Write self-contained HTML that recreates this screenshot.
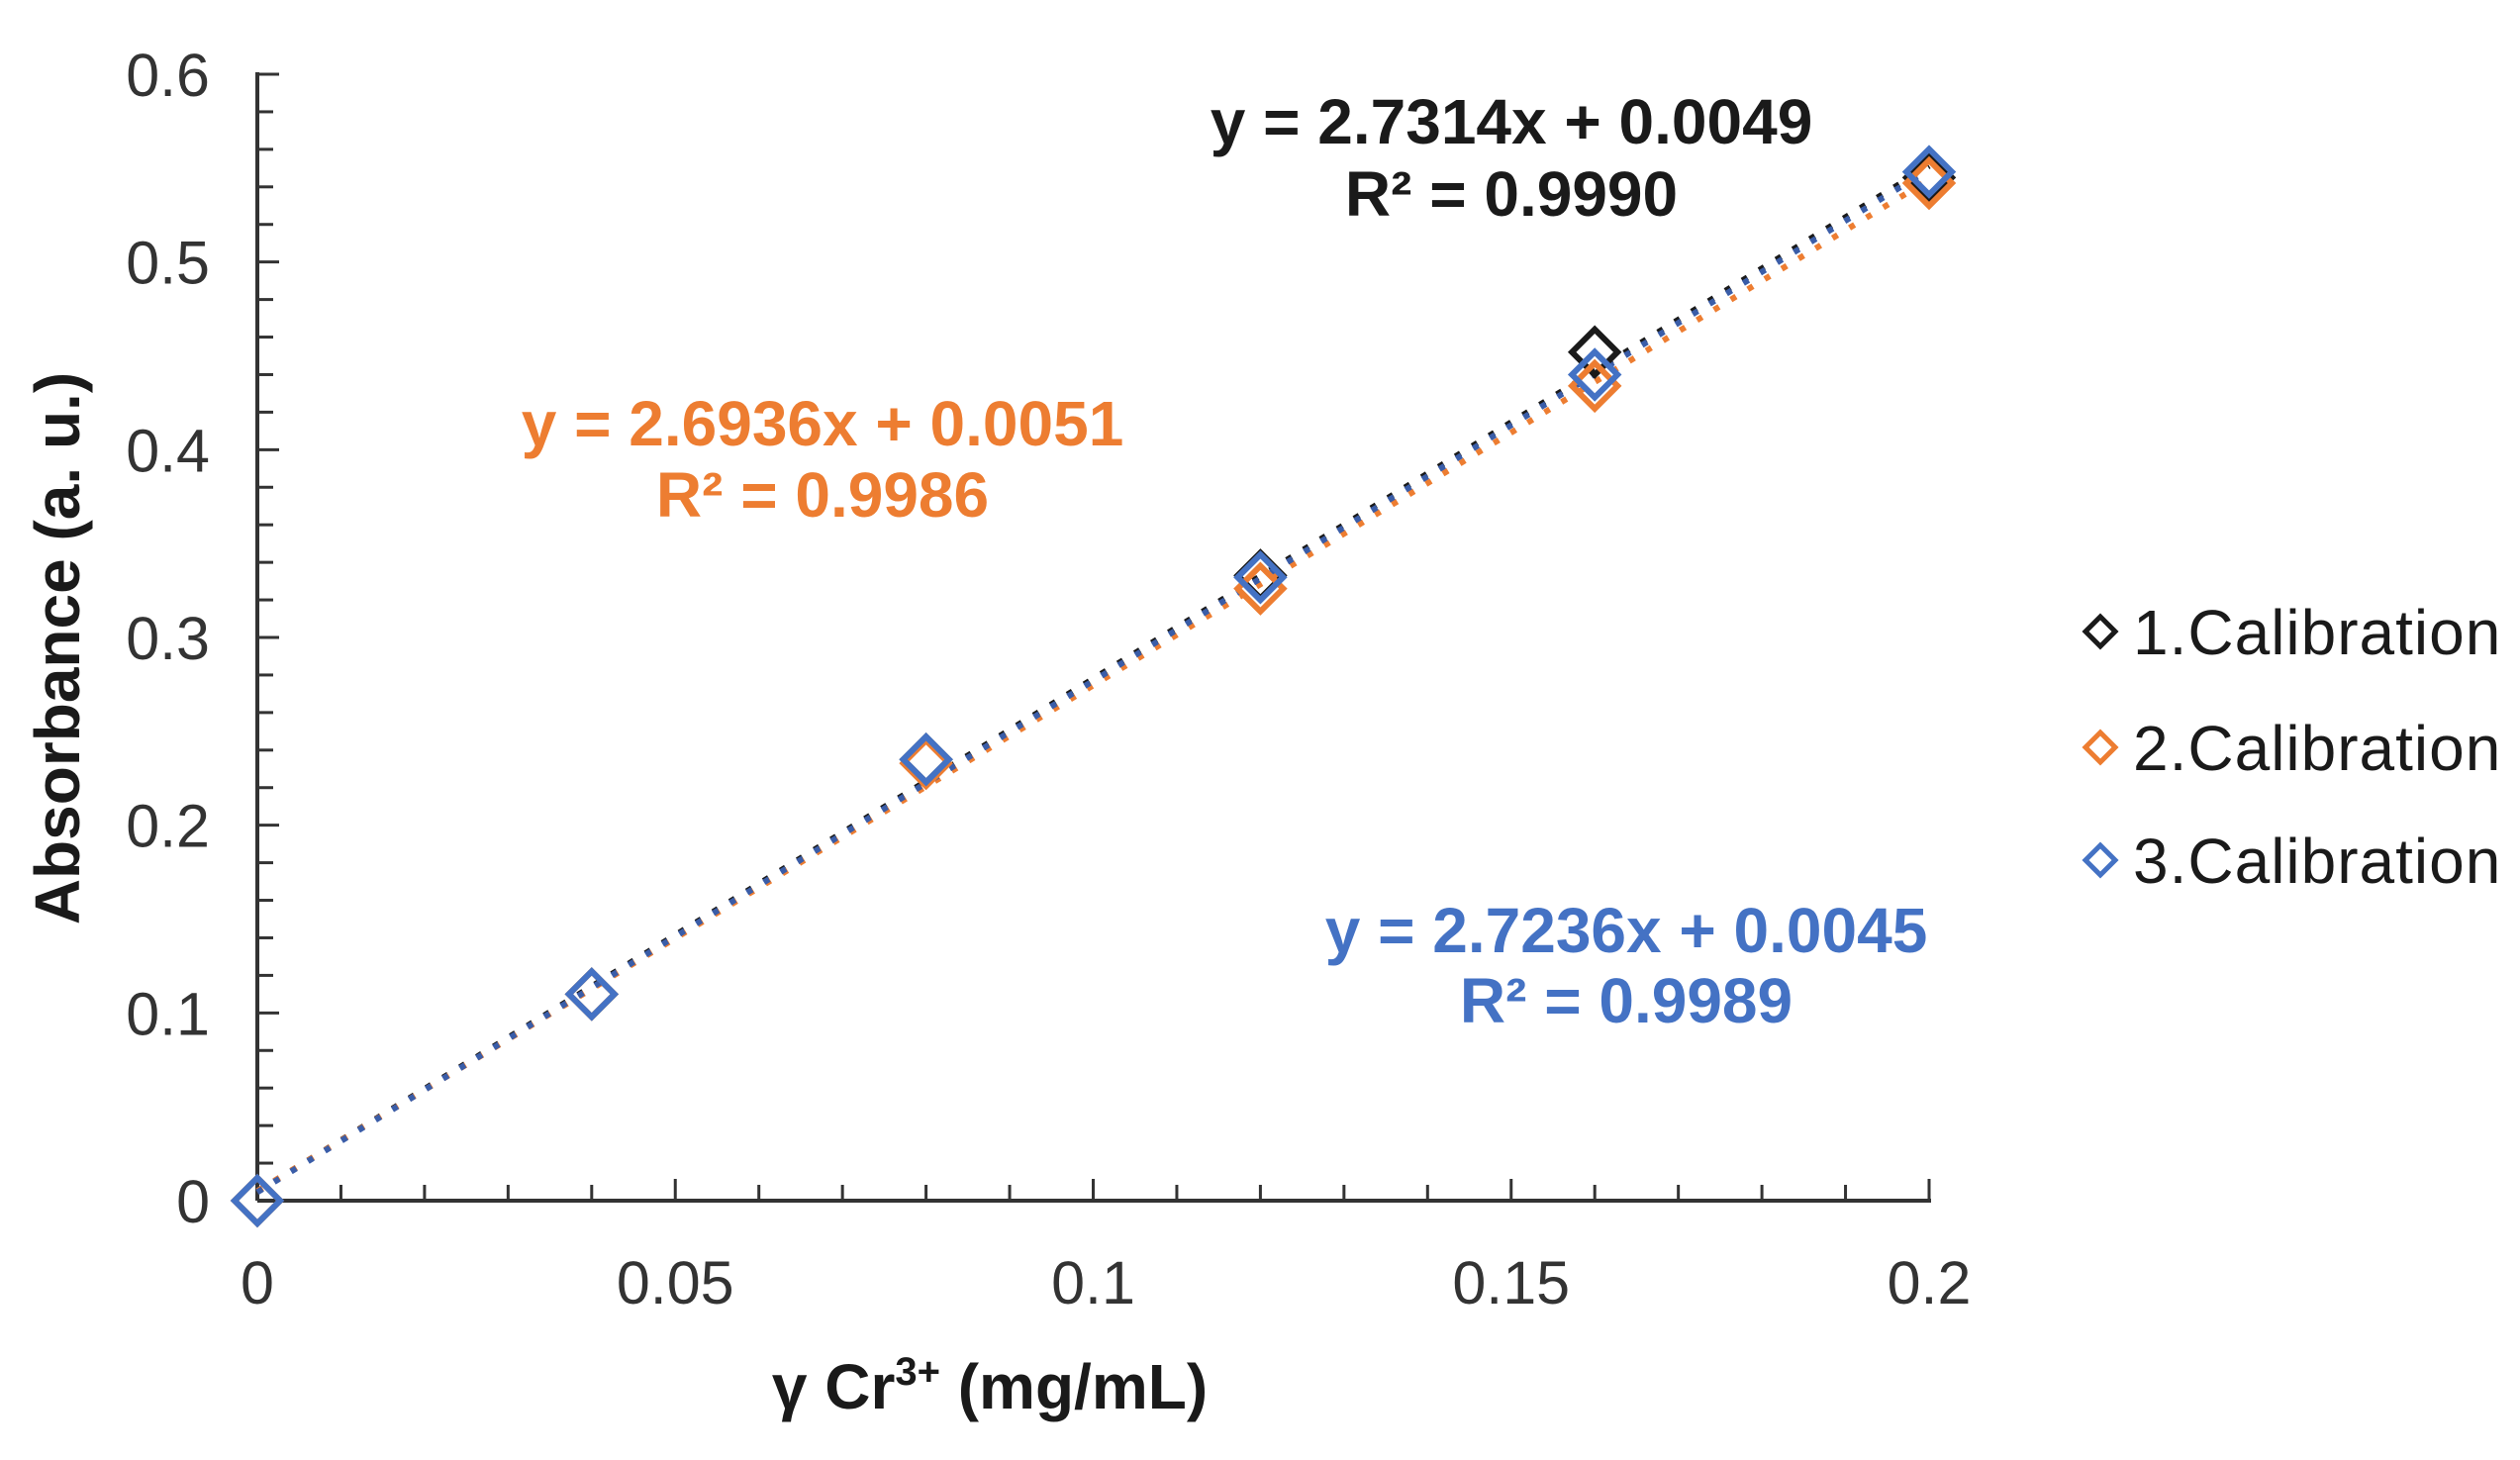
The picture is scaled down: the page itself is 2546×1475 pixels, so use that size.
<!DOCTYPE html>
<html><head><meta charset="utf-8"><style>
html,body{margin:0;padding:0;background:#fff;}
svg{display:block;font-family:"Liberation Sans",Arial,sans-serif;}
</style></head><body>
<svg id="chart" width="2546" height="1475" viewBox="0 0 2546 1475" xmlns="http://www.w3.org/2000/svg">
<g id="grid"></g>
<g id="lines"></g>
<g id="marks"></g>
<text transform="translate(80,655) rotate(-90)" text-anchor="middle" font-size="64" font-weight="bold" fill="#1a1a1a">Absorbance (a. u.)</text>
<text x="1000" y="1423" text-anchor="middle" font-size="64" font-weight="bold" fill="#1a1a1a">γ Cr<tspan font-size="40" dy="-24">3+</tspan><tspan dy="24"> (mg/mL)</tspan></text>
<g font-size="64" font-weight="bold" fill="#1a1a1a" text-anchor="middle">
<text x="1527" y="145">y = 2.7314x + 0.0049</text>
<text x="1527" y="218">R² = 0.9990</text></g>
<g font-size="64" font-weight="bold" fill="#ED7D31" text-anchor="middle">
<text x="831" y="450">y = 2.6936x + 0.0051</text>
<text x="831" y="522">R² = 0.9986</text></g>
<g font-size="64" font-weight="bold" fill="#4472C4" text-anchor="middle">
<text x="1643" y="962">y = 2.7236x + 0.0045</text>
<text x="1643" y="1033">R² = 0.9989</text></g>
<g id="legend"></g>
</svg>
<script>
const categories = [0, 0.04, 0.08, 0.12, 0.16, 0.2];
const series1 = [0, 0.11, 0.235, 0.333, 0.452, 0.545];
const series2 = [0, 0.11, 0.233, 0.326, 0.434, 0.542];
const series3 = [0, 0.11, 0.235, 0.332, 0.44, 0.548];
const slopes = [2.7314, 2.6936, 2.7236];
const intercepts = [0.0049, 0.0051, 0.0045];
const seriesNames = ['1.Calibration', '2.Calibration', '3.Calibration'];
const xTicks = [0, 0.05, 0.1, 0.15, 0.2];
const xTickLabels = ['0', '0.05', '0.1', '0.15', '0.2'];
const yTicks = [0, 0.1, 0.2, 0.3, 0.4, 0.5, 0.6];
const yTickLabels = ['0', '0.1', '0.2', '0.3', '0.4', '0.5', '0.6'];

const NS = 'http://www.w3.org/2000/svg';
const X0 = 260, X1 = 1949, Y0 = 1213, Y1 = 75;
const sx = v => X0 + v / 0.2 * (X1 - X0);
const sy = v => Y0 - v / 0.6 * (Y0 - Y1);
const colors = ['#1a1a1a', '#ED7D31', '#4472C4'];
const lineColors = ['#1a1a1a', '#ED7D31', '#3A5DA8'];
function mk(tag, attrs, parent) {
  const e = document.createElementNS(NS, tag);
  for (const k in attrs) e.setAttribute(k, attrs[k]);
  parent.appendChild(e);
  return e;
}
const grid = document.getElementById('grid');
let e;
e = mk('line', {x1: X0, y1: Y1 - 2, x2: X0, y2: Y0, stroke: '#333', 'stroke-width': 4}, grid);


e = mk('line', {x1: X0, y1: Y0, x2: X1 + 2, y2: Y0, stroke: '#333', 'stroke-width': 4}, grid);


for (let i = 0; i <= 30; i++) {
  const v = i * 0.02, y = sy(v);
  const major = i % 5 === 0;
  e = mk('line', {x1: X0, y1: y, x2: X0 + (major ? 22 : 16), y2: y, stroke: '#333', 'stroke-width': 3}, grid);
  
  
}
for (let i = 0; i <= 20; i++) {
  const v = i * 0.01, x = sx(v);
  e = mk('line', {x1: x, y1: Y0, x2: x, y2: Y0 - (i % 5 === 0 ? 22 : 16), stroke: '#333', 'stroke-width': 3}, grid);
  
  
}
yTicks.forEach((v, i) => {
  e = mk('text', {x: 212, y: sy(v) + 22, 'text-anchor': 'end', 'font-size': 61, fill: '#333'}, grid);
  e.textContent = yTickLabels[i];
  
  
});
xTicks.forEach((v, i) => {
  e = mk('text', {x: sx(v), y: 1317, 'text-anchor': 'middle', 'font-size': 61, fill: '#333'}, grid);
  e.textContent = xTickLabels[i];
  
  
});
const lines = document.getElementById('lines');
[0, 1, 2].forEach(s => {
  const xa = 0, xb = 0.2;
  e = mk('line', {x1: sx(xa), y1: sy(slopes[s] * xa + intercepts[s]), x2: sx(xb), y2: sy(slopes[s] * xb + intercepts[s]),
    stroke: lineColors[s], 'stroke-width': 6, 'stroke-dasharray': '6 14', 'stroke-linecap': 'butt'}, lines);
  
  
});
const marks = document.getElementById('marks');
const all = [series1, series2, series3];
const r = 23;
function diamond(cx, cy, rr, col, parent, sw) {
  return mk('polygon', {points: `${cx},${cy - rr} ${cx + rr},${cy} ${cx},${cy + rr} ${cx - rr},${cy}`,
    fill: 'none', stroke: col, 'stroke-width': sw}, parent);
}
all.forEach((ser, s) => {
  ser.forEach((v, i) => {
    e = diamond(sx(categories[i]), sy(v), r, colors[s], marks, 6);
    
    
  });
});
const legend = document.getElementById('legend');
const ly = [638, 755, 869];
seriesNames.forEach((n, s) => {
  e = diamond(2122, ly[s], 15, colors[s], legend, 5);
  
  
  e = mk('text', {x: 2155, y: ly[s] + 23, 'font-size': 64, 'letter-spacing': 1, fill: '#1a1a1a'}, legend);
  e.textContent = n;
  
  
});
</script>
</body></html>
